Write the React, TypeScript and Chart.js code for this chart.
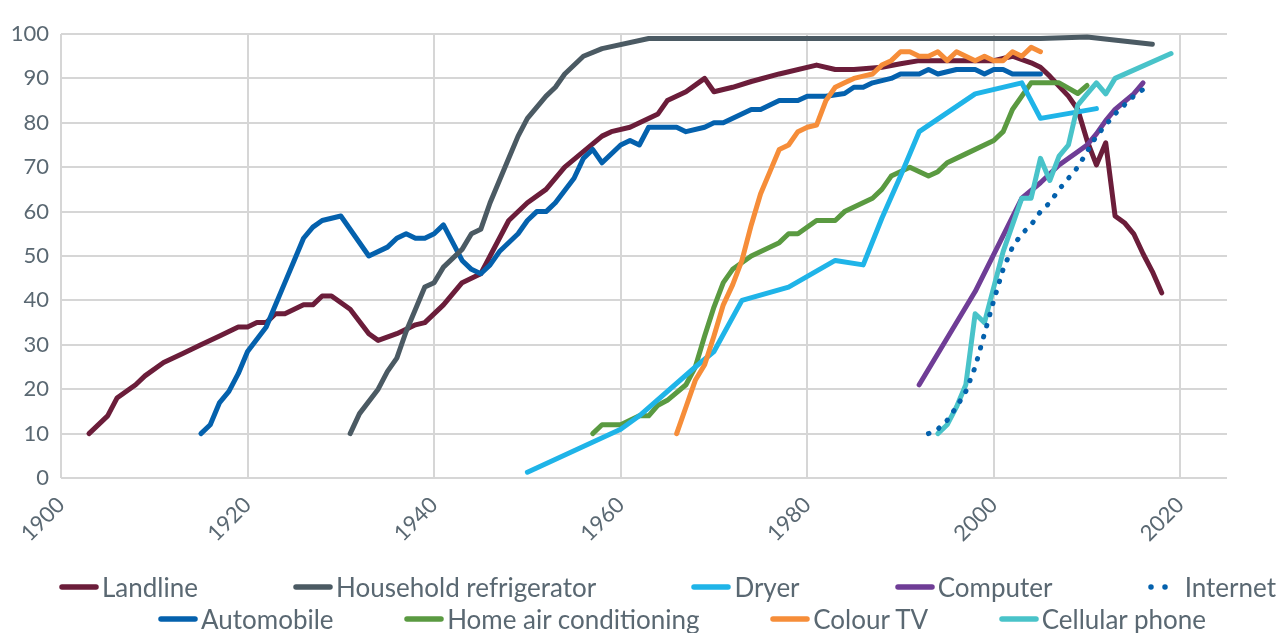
import React, { useEffect, useRef } from "react";
import { Chart, registerables } from "chart.js";

Chart.register(...registerables);

const FONT_FAMILY = "Lato, 'Noto Sans', sans-serif";
const TEXT_COLOR = "#5a6872";
const GRID_COLOR = "#d6d6d6";

// ---- data (year, % of households) ----
const landline: [number, number][] = [
  [1903, 10], [1905, 14], [1906, 18], [1908, 21], [1909, 23], [1911, 26], [1913, 28],
  [1915, 30], [1917, 32], [1919, 34], [1920, 34], [1921, 35], [1922, 35], [1923, 37],
  [1924, 37], [1926, 39], [1927, 39], [1928, 41], [1929, 41], [1931, 38], [1933, 32.5],
  [1934, 31], [1936, 32.5], [1938, 34.5], [1939, 35], [1941, 39], [1943, 44], [1945, 46],
  [1946, 50], [1947, 54], [1948, 58], [1950, 62], [1952, 65], [1954, 70], [1956, 73.5],
  [1958, 77], [1959, 78], [1961, 79], [1964, 82], [1965, 85], [1967, 87], [1969, 90],
  [1970, 87], [1972, 88], [1974, 89.3], [1977, 91], [1981, 93], [1983, 92], [1985, 92],
  [1988, 92.5], [1990, 93.3], [1992, 94], [2000, 94], [2002, 95], [2004, 93.5],
  [2005, 92.5], [2006, 90.5], [2008, 86], [2009, 83], [2010, 76], [2011, 70.5],
  [2012, 75.5], [2013, 59], [2014, 57.5], [2015, 55], [2016, 50.5], [2017, 46.5], [2018, 41.7],
];

const automobile: [number, number][] = [
  [1915, 10], [1916, 12], [1917, 17], [1918, 19.5], [1919, 23.5], [1920, 28.5], [1922, 34],
  [1923, 39], [1924, 44], [1925, 49], [1926, 54], [1927, 56.5], [1928, 58], [1929, 58.5],
  [1930, 59], [1933, 50], [1935, 52], [1936, 54], [1937, 55], [1938, 54], [1939, 54],
  [1940, 55], [1941, 57], [1943, 49], [1944, 47], [1945, 46], [1946, 48], [1947, 51],
  [1949, 55], [1950, 58], [1951, 60], [1952, 60], [1953, 62], [1955, 67.5], [1956, 72],
  [1957, 74], [1958, 71], [1960, 75], [1961, 76], [1962, 75], [1963, 79], [1966, 79],
  [1967, 78], [1969, 79], [1970, 80], [1971, 80], [1974, 83], [1975, 83], [1977, 85],
  [1979, 85], [1980, 86], [1982, 86], [1984, 86.6], [1985, 88], [1986, 88], [1987, 89],
  [1989, 90], [1990, 91], [1992, 91], [1993, 92], [1994, 91], [1996, 92], [1998, 92],
  [1999, 91], [2000, 92], [2001, 92], [2002, 91], [2005, 91],
];

const refrigerator: [number, number][] = [
  [1931, 10], [1932, 14.5], [1934, 20], [1935, 24], [1936, 27], [1937, 33], [1939, 43],
  [1940, 44], [1941, 47.5], [1943, 51.5], [1944, 55], [1945, 56], [1946, 62], [1947, 67],
  [1948, 72], [1949, 77], [1950, 81], [1952, 86], [1953, 88], [1954, 91], [1956, 95],
  [1958, 96.7], [1963, 99], [2005, 99], [2010, 99.3], [2017, 97.7],
];

const airConditioning: [number, number][] = [
  [1957, 10], [1958, 12], [1960, 12], [1962, 14], [1963, 14], [1964, 16.4], [1965, 17.5],
  [1967, 21], [1968, 25], [1969, 32], [1970, 38.5], [1971, 44], [1972, 47], [1974, 50],
  [1977, 53], [1978, 55], [1979, 55], [1981, 58], [1983, 58], [1984, 60], [1987, 63],
  [1988, 65], [1989, 68], [1991, 70], [1993, 68], [1994, 69], [1995, 71], [1997, 73],
  [2000, 76], [2001, 78], [2002, 83], [2004, 89], [2007, 89], [2009, 86.6], [2010, 88.4],
];

const dryer: [number, number][] = [
  [1950, 1.3], [1960, 11], [1962, 14], [1968, 25], [1970, 28.5], [1973, 40], [1978, 43],
  [1983, 49], [1986, 48], [1988, 58.5], [1990, 68], [1992, 78], [1998, 86.5], [2003, 89],
  [2005, 81], [2011, 83.2],
];

const colourTV: [number, number][] = [
  [1966, 10], [1967, 16], [1968, 22], [1969, 25.5], [1970, 32], [1971, 39], [1972, 43.5],
  [1973, 49], [1974, 57], [1975, 64], [1976, 69], [1977, 74], [1978, 75], [1979, 78],
  [1980, 79], [1981, 79.5], [1982, 85], [1983, 88], [1984, 89], [1985, 90], [1986, 90.5],
  [1987, 91], [1988, 93], [1989, 94], [1990, 96], [1991, 96], [1992, 95], [1993, 95],
  [1994, 96], [1995, 94], [1996, 96], [1997, 95], [1998, 94], [1999, 95], [2000, 94],
  [2001, 94], [2002, 96], [2003, 95], [2004, 97], [2005, 96],
];

const computer: [number, number][] = [
  [1992, 21], [1998, 42], [2003, 63], [2005, 66.5], [2007, 70.5], [2009, 73.5], [2010, 75],
  [2011, 77.5], [2012, 80.5], [2013, 83], [2015, 86.5], [2016, 89],
];

const cellular: [number, number][] = [
  [1994, 10], [1995, 12], [1996, 16], [1997, 21], [1998, 37], [1999, 35], [2000, 43],
  [2001, 51], [2002, 57], [2003, 63], [2004, 63], [2005, 72], [2006, 67], [2007, 72.5],
  [2008, 75], [2009, 84], [2010, 86.5], [2011, 89], [2012, 86.5], [2013, 90], [2019, 95.6],
];

const internet: [number, number][] = [
  [1993, 10], [1994, 11], [1995, 13], [1996, 16], [1997, 19.5], [1998, 25], [1999, 32.5],
  [2000, 40], [2001, 47], [2002, 52], [2003, 55], [2004, 57], [2005, 60], [2006, 62],
  [2007, 65], [2008, 67.5], [2009, 70], [2010, 73.5], [2011, 77], [2012, 79.5], [2013, 82],
  [2014, 84], [2015, 86], [2016, 87.5],
];

const yearTicks = [1900, 1920, 1940, 1960, 1980, 2000, 2020];

type Series = { name: string; points: [number, number][]; color: string; dotted?: boolean };

// drawing order: later entries on top
const series: Series[] = [
  { name: "Landline", points: landline, color: "#6b1d3a" },
  { name: "Automobile", points: automobile, color: "#0461ad" },
  { name: "Household refrigerator", points: refrigerator, color: "#4b5a63" },
  { name: "Home air conditioning", points: airConditioning, color: "#5a9a41" },
  { name: "Dryer", points: dryer, color: "#1fb4e8" },
  { name: "Colour TV", points: colourTV, color: "#f68d39" },
  { name: "Computer", points: computer, color: "#6f3d96" },
  { name: "Cellular phone", points: cellular, color: "#49c3c9" },
  { name: "Internet", points: internet, color: "#0461ad", dotted: true },
];

const legendRow1 = ["Landline", "Household refrigerator", "Dryer", "Computer", "Internet"];
const legendRow2 = ["Automobile", "Home air conditioning", "Colour TV", "Cellular phone"];

function LegendItem({ s }: { s: Series }) {
  const w = s.dotted ? 34 : 40;
  return (
    <div style={{ display: "flex", alignItems: "center", gap: 3 }}>
      <svg width={w} height={8} style={{ display: "block" }}>
        <line
          x1={3}
          y1={4}
          x2={w - 3}
          y2={4}
          stroke={s.color}
          strokeWidth={5.5}
          strokeLinecap="round"
          strokeDasharray={s.dotted ? "0 14" : undefined}
        />
      </svg>
      <span>{s.name}</span>
    </div>
  );
}

export default function App() {
  const ref = useRef<HTMLCanvasElement>(null);

  useEffect(() => {
    document.body.style.margin = "0";
    if (!ref.current) return;
    const chart = new Chart(ref.current, {
      type: "line",
      data: {
        datasets: series.map((s, i) => ({
          label: s.name,
          data: s.points.map(([x, y]) => ({ x, y })),
          borderColor: s.color,
          backgroundColor: s.color,
          borderWidth: 5,
          pointRadius: 0,
          pointHoverRadius: 0,
          borderCapStyle: "round" as const,
          borderJoinStyle: "round" as const,
          borderDash: s.dotted ? [0.5, 11] : [],
          tension: 0,
          fill: false,
          order: series.length - i,
        })),
      },
      options: {
        responsive: false,
        animation: false,
        events: [],
        layout: { padding: { left: 0, right: 53, top: 34, bottom: 70 } },
        plugins: { legend: { display: false }, tooltip: { enabled: false } },
        scales: {
          x: {
            type: "linear",
            min: 1900,
            max: 2025,
            afterBuildTicks: (scale: any) => {
              scale.ticks = yearTicks.map((v) => ({ value: v }));
            },
            afterFit: (scale: any) => {
              scale.height = 85;
            },
            ticks: {
              autoSkip: false,
              minRotation: 45,
              maxRotation: 45,
              padding: 14,
              color: TEXT_COLOR,
              font: { family: FONT_FAMILY, size: 22 },
              callback: (v: any) => String(v),
            },
            grid: { color: GRID_COLOR, lineWidth: 2, drawTicks: false },
            border: { display: false },
          },
          y: {
            min: 0,
            max: 100,
            afterFit: (scale: any) => {
              scale.width = 61;
            },
            ticks: {
              stepSize: 10,
              padding: 12,
              color: TEXT_COLOR,
              font: { family: FONT_FAMILY, size: 22 },
            },
            grid: { color: GRID_COLOR, lineWidth: 2, drawTicks: false },
            border: { display: false },
          },
        },
      },
    });
    return () => chart.destroy();
  }, []);

  const byName = (n: string) => series.find((s) => s.name === n)!;
  const rowStyle: React.CSSProperties = {
    position: "absolute",
    display: "flex",
    justifyContent: "space-between",
    alignItems: "center",
    fontFamily: FONT_FAMILY,
    fontSize: 26,
    lineHeight: "30px",
    color: TEXT_COLOR,
    whiteSpace: "nowrap",
  };

  return (
    <div style={{ position: "relative", width: 1280, height: 633, overflow: "hidden" }}>
      <canvas ref={ref} width={1280} height={633} style={{ display: "block" }} />
      <div style={{ ...rowStyle, left: 59, top: 572, width: 1217 }}>
        {legendRow1.map((n) => (
          <LegendItem key={n} s={byName(n)} />
        ))}
      </div>
      <div style={{ ...rowStyle, left: 158, top: 604, width: 1048 }}>
        {legendRow2.map((n) => (
          <LegendItem key={n} s={byName(n)} />
        ))}
      </div>
    </div>
  );
}
